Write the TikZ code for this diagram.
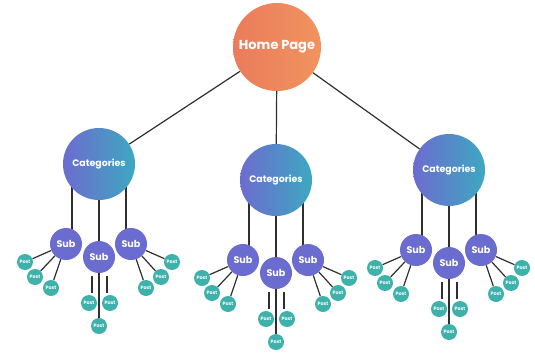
\documentclass[tikz,border=0pt]{standalone}
\usepackage{fontspec}
\setmainfont{Poppins}
\usetikzlibrary{calc}
\pgfdeclarelayer{paper}
\pgfdeclarelayer{bg}
\pgfsetlayers{paper,bg,main}
\definecolor{homeL}{HTML}{EB7B5C}
\definecolor{homeR}{HTML}{F1935F}
\definecolor{catL}{HTML}{6C6CCF}
\definecolor{catR}{HTML}{3DA8C1}
\definecolor{subC}{HTML}{6A6DCF}
\definecolor{postC}{HTML}{3EB1AA}
\definecolor{lnk}{HTML}{2F2F2F}
\tikzset{
  homenode/.style={circle, minimum size=88pt, inner sep=0pt, left color=homeL, right color=homeR, text=white, font=\bfseries\fontsize{13}{13}\selectfont},
  catnode/.style={circle, minimum size=72pt, inner sep=0pt, left color=catL, right color=catR, text=white, font=\bfseries\fontsize{9.4}{10}\selectfont},
  subnode/.style={circle, minimum size=32pt, inner sep=0pt, fill=subC, text=white, font=\bfseries\fontsize{9.6}{10}\selectfont},
  postnode/.style={circle, minimum size=16pt, inner sep=0pt, fill=postC, text=white, font=\bfseries\fontsize{4.8}{5}\selectfont},
  link/.style={draw=lnk, line width=1.2pt}
}
\newcommand\sitegroup[3]{%
  \node[catnode] (#3c) at (#1,#2-93) {Categories};
  \node[subnode] (#3l) at (#1-33,#2-13) {Sub};
  \node[subnode] (#3m) at (#1,#2) {Sub};
  \node[subnode] (#3r) at (#1+32,#2-13) {Sub};
  \node[postnode] (#3l1) at ($(#3l)+(-41,18)$) {Post};
  \node[postnode] (#3l2) at ($(#3l)+(-31,33)$) {Post};
  \node[postnode] (#3l3) at ($(#3l)+(-15,44)$) {Post};
  \node[postnode] (#3r1) at ($(#3r)+(41,18)$) {Post};
  \node[postnode] (#3r2) at ($(#3r)+(30,33)$) {Post};
  \node[postnode] (#3r3) at ($(#3r)+(15,44)$) {Post};
  \node[postnode] (#3a) at ($(#3m)+(-10,46)$) {Post};
  \node[postnode] (#3b) at ($(#3m)+(11,46)$) {Post};
  \node[postnode] (#3d) at ($(#3m)+(0,69)$) {Post};
  \begin{pgfonlayer}{bg}
    \draw[link] ([shift={(-27,0)}]#3c.center) -- ([shift={(-27,0)}]#3c.center |- #3l.center);
    \draw[link] (#3c.center) -- (#3m.center);
    \draw[link] ([shift={(27,0)}]#3c.center) -- ([shift={(27,0)}]#3c.center |- #3r.center);
    \draw[link] (#3l) -- (#3l1);
    \draw[link] (#3l) -- (#3l2);
    \draw[link] (#3l) -- (#3l3);
    \draw[link] (#3r) -- (#3r1);
    \draw[link] (#3r) -- (#3r2);
    \draw[link] (#3r) -- (#3r3);
    \draw[link] ([shift={(-7,3)}]#3m.south) -- ([shift={(3,-2)}]#3a.north);
    \draw[link] ([shift={(8,3)}]#3m.south) -- ([shift={(-3,-2)}]#3b.north);
    \draw[link] (#3m.center) -- (#3d.center);
  \end{pgfonlayer}
}
\begin{document}
\begin{tikzpicture}[x=1pt,y=-1pt]
  \begin{pgfonlayer}{paper}
    \fill[white] (0,0) rectangle (535,353);
  \end{pgfonlayer}
  \useasboundingbox (0,0) rectangle (535,353);
  \node[homenode] (home) at (277,47) {Home Page};
  \sitegroup{99}{257}{g1}
  \sitegroup{276}{273}{g2}
  \sitegroup{449}{263}{g3}
  \begin{pgfonlayer}{bg}
    \draw[link] (home) -- (g1c);
    \draw[link] (home) -- (g2c);
    \draw[link] (home) -- (g3c);
  \end{pgfonlayer}
\end{tikzpicture}
\end{document}
